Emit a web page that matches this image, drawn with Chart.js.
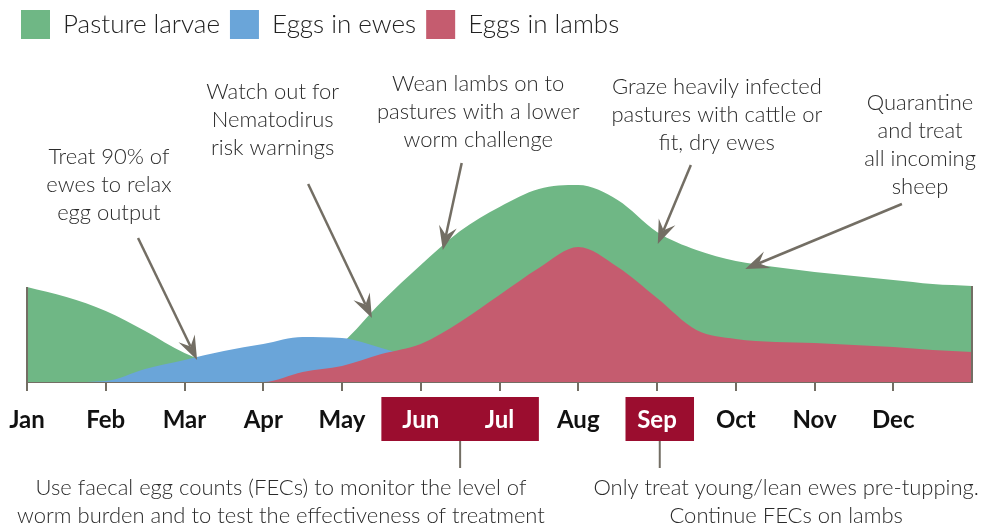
<!DOCTYPE html>
<html>
<head>
<meta charset="utf-8">
<script src="https://cdn.jsdelivr.net/npm/chart.js@4.4.1/dist/chart.umd.min.js"></script>
<style>
  html, body { margin: 0; padding: 0; background: #fff; }
</style>
</head>
<body>
<canvas id="chart" width="1000" height="528"></canvas>
<script>
// months run 0..12 on a linear axis, data sampled every half month
const months = ['Jan', 'Feb', 'Mar', 'Apr', 'May', 'Jun', 'Jul', 'Aug', 'Sep', 'Oct', 'Nov', 'Dec'];
const monthPos = [0, 0.5, 1, 1.5, 2, 2.5, 3, 3.5, 4, 4.5, 5, 5.5, 6, 6.5, 7, 7.5, 8, 8.5, 9, 9.5, 10, 10.5, 11, 11.5, 12];
const pastureLarvae = [95, 85, 71, 51, 29, 15, 10, 15, 39, 80, 117, 151, 175, 193, 197, 182, 150, 132, 121, 115, 110, 106, 102, 98, 96];
const eggsInEwes = [0, 0, 1, 13, 22, 31, 38, 45, 44, 34, 22, 10, 3, 0, 0, 0, 0, 0, 0, 0, 0, 0, 0, 0, 0];
const eggsInLambs = [0, 0, 0, 0, 0, 0, 0, 10, 16, 28, 38, 60, 87, 114, 135, 115, 84, 52, 43, 40, 39, 37, 35, 32, 30];
const highlighted = ['Jun', 'Jul', 'Sep'];
const highlightSpans = [[4.5, 6.5], [7.6, 8.47]];

const topNotes = [
  { lines: ['Treat 90% of', 'ewes to relax', 'egg output'], at: [1.04, 225], from: [1.41, 144], to: [2.16, 22] },
  { lines: ['Watch out for', 'Nematodirus', 'risk warnings'], at: [3.12, 290], from: [3.57, 198], to: [4.38, 64] },
  { lines: ['Wean lambs on to', 'pastures with a lower', 'worm challenge'], at: [5.73, 298], from: [5.52, 219], to: [5.28, 132] },
  { lines: ['Graze heavily infected', 'pastures with cattle or', 'fit, dry ewes'], at: [8.76, 295], from: [8.43, 217], to: [8.01, 138] },
  { lines: ['Quarantine', 'and treat', 'all incoming', 'sheep'], at: [11.34, 279], from: [11.11, 178], to: [9.12, 113] }
];
const bottomNotes = [
  { lines: ['Use faecal egg counts (FECs) to monitor the level of', 'worm burden and to test the effectiveness of treatment'], at: [3.225, -106] },
  { lines: ['Only treat young/lean ewes pre-tupping.', 'Continue FECs on lambs'], at: [9.64, -106] }
];

const axisGrey = '#736e64';
const textFont = '300 22px Lato';

function toPoints(values) {
  return monthPos.map((x, i) => ({ x: x, y: values[i] }));
}

function drawArrow(ctx, x1, y1, x2, y2) {
  const ang = Math.atan2(y2 - y1, x2 - x1);
  const len = 24, half = 9, notch = 15;
  const cos = Math.cos(ang), sin = Math.sin(ang);
  ctx.beginPath();
  ctx.moveTo(x1, y1);
  ctx.lineTo(x2 - cos * notch, y2 - sin * notch);
  ctx.stroke();
  ctx.beginPath();
  ctx.moveTo(x2, y2);
  ctx.lineTo(x2 - cos * len - sin * half, y2 - sin * len + cos * half);
  ctx.lineTo(x2 - cos * notch, y2 - sin * notch);
  ctx.lineTo(x2 - cos * len + sin * half, y2 - sin * len - cos * half);
  ctx.closePath();
  ctx.fill();
}

const notesPlugin = {
  id: 'notes',
  beforeDraw(chart) {
    const { ctx } = chart;
    const x = chart.scales.x;
    ctx.save();
    highlightSpans.forEach(([a, b]) => {
      const l = x.getPixelForValue(a), r = x.getPixelForValue(b);
      ctx.fillStyle = '#9b0d2f';
      ctx.fillRect(l, 397, r - l, 44);
      ctx.strokeStyle = axisGrey;
      ctx.lineWidth = 2;
      ctx.beginPath();
      ctx.moveTo((l + r) / 2, 441);
      ctx.lineTo((l + r) / 2, 468);
      ctx.stroke();
    });
    ctx.restore();
  },
  afterDatasetsDraw(chart) {
    const { ctx } = chart;
    const x = chart.scales.x, y = chart.scales.y;
    ctx.save();
    // vertical edges of the pasture area
    ctx.strokeStyle = axisGrey;
    ctx.lineWidth = 2;
    [[0, pastureLarvae[0]], [12, pastureLarvae[pastureLarvae.length - 1]]].forEach(([m, v]) => {
      ctx.beginPath();
      ctx.moveTo(x.getPixelForValue(m), y.getPixelForValue(0));
      ctx.lineTo(x.getPixelForValue(m), y.getPixelForValue(v));
      ctx.stroke();
    });
    // arrows
    ctx.fillStyle = axisGrey;
    ctx.lineWidth = 2.5;
    topNotes.forEach(n => {
      drawArrow(ctx,
        x.getPixelForValue(n.from[0]), y.getPixelForValue(n.from[1]),
        x.getPixelForValue(n.to[0]), y.getPixelForValue(n.to[1]));
    });
    // text
    ctx.fillStyle = '#2b2b2b';
    ctx.font = textFont;
    ctx.textAlign = 'center';
    ctx.textBaseline = 'middle';
    topNotes.concat(bottomNotes).forEach(n => {
      const cx = x.getPixelForValue(n.at[0]);
      const cy = y.getPixelForValue(n.at[1]);
      n.lines.forEach((line, i) => ctx.fillText(line, cx, cy + i * 28));
    });
    ctx.restore();
  }
};

new Chart(document.getElementById('chart').getContext('2d'), {
  type: 'line',
  data: {
    datasets: [
      {
        label: 'Pasture larvae',
        data: toPoints(pastureLarvae),
        backgroundColor: '#6fb785',
        order: 3
      },
      {
        label: 'Eggs in ewes',
        data: toPoints(eggsInEwes),
        backgroundColor: '#6aa5d9',
        order: 2
      },
      {
        label: 'Eggs in lambs',
        data: toPoints(eggsInLambs),
        backgroundColor: '#c55c6f',
        order: 1
      }
    ]
  },
  options: {
    responsive: false,
    animation: false,
    devicePixelRatio: 1,
    layout: { padding: { left: 11, right: 28, top: 0, bottom: 0 } },
    elements: {
      line: { fill: 'origin', borderWidth: 0, tension: 0.4, cubicInterpolationMode: 'monotone' },
      point: { radius: 0, hoverRadius: 0 }
    },
    scales: {
      x: {
        type: 'linear',
        min: 0,
        max: 12,
        afterBuildTicks: (scale) => { scale.ticks = months.map((m, i) => ({ value: i })); },
        afterFit: (scale) => { scale.height = 146; scale.paddingLeft = 0; scale.paddingRight = 0; },
        ticks: {
          autoSkip: false,
          maxRotation: 0,
          padding: 15,
          font: { family: 'Lato', size: 24, weight: 'bold' },
          color: (ctx) => highlighted.includes(months[ctx.tick.value]) ? '#ffffff' : '#111111',
          callback: (value) => months[value]
        },
        grid: { drawOnChartArea: false, drawTicks: true, tickLength: 9, color: axisGrey, lineWidth: 2 },
        border: { display: true, color: axisGrey, width: 2 }
      },
      y: {
        min: 0,
        max: 333,
        afterFit: (scale) => { scale.width = 16; },
        ticks: { display: false },
        grid: { display: false },
        border: { display: false }
      }
    },
    plugins: {
      tooltip: { enabled: false },
      legend: {
        position: 'top',
        align: 'start',
        labels: {
          boxWidth: 29,
          boxHeight: 29,
          padding: 10,
          color: '#222222',
          font: { family: 'Lato', size: 26, weight: '300' },
          sort: (a, b) => a.datasetIndex - b.datasetIndex
        }
      }
    }
  },
  plugins: [notesPlugin]
});
</script>
</body>
</html>
